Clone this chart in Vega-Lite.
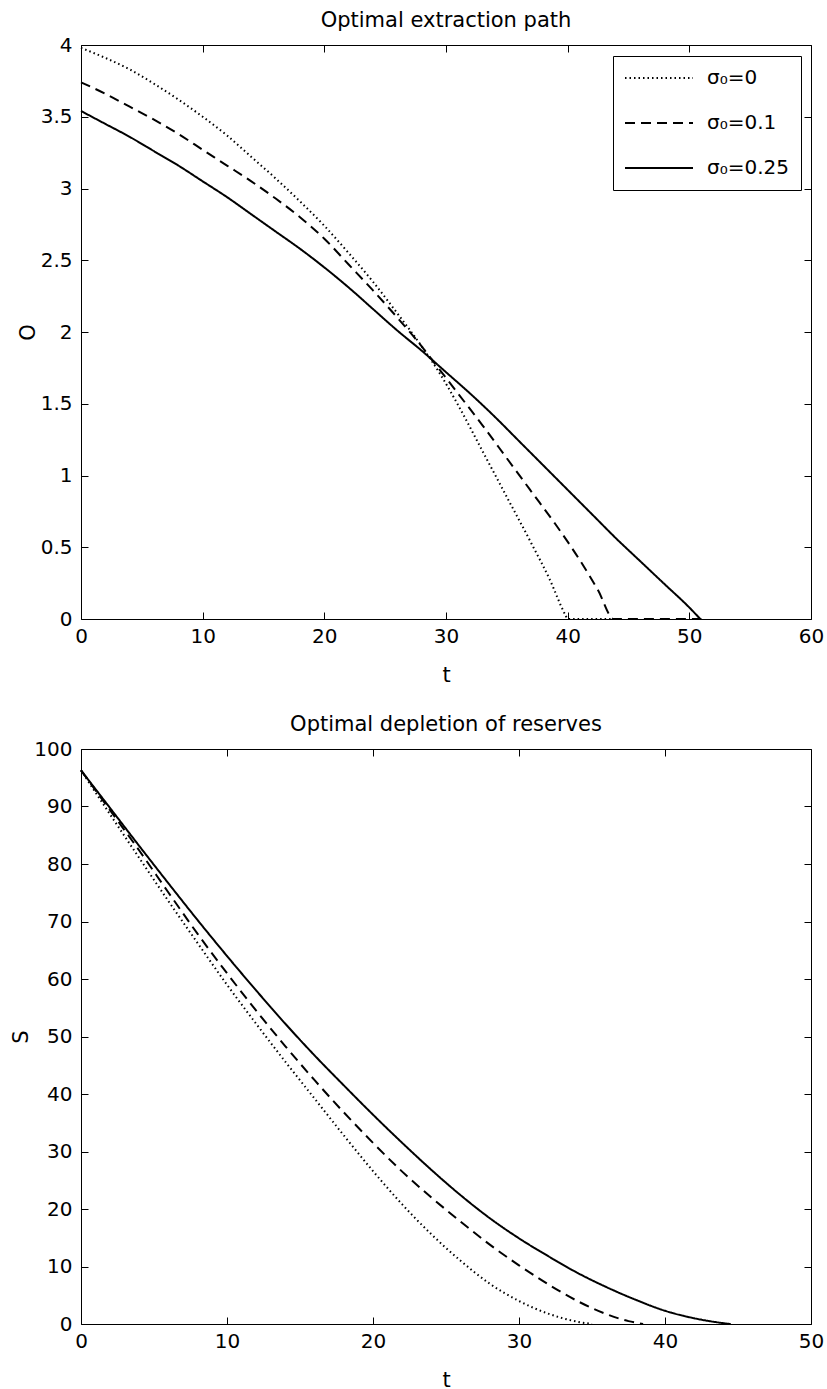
{
  "$schema": "https://vega.github.io/schema/vega-lite/v6.json",
  "background": "white",
  "padding": {"left": 10, "top": 10, "right": 0, "bottom": 2},
  "datasets": {
    "extraction": [
      {"t": 0, "O": 3.98, "series": "σ₀=0"}, {"t": 2, "O": 3.91, "series": "σ₀=0"}, {"t": 4, "O": 3.83, "series": "σ₀=0"}, {"t": 6, "O": 3.73, "series": "σ₀=0"}, {"t": 8, "O": 3.62, "series": "σ₀=0"}, {"t": 10, "O": 3.5, "series": "σ₀=0"}, {"t": 12, "O": 3.37, "series": "σ₀=0"}, {"t": 14, "O": 3.22, "series": "σ₀=0"}, {"t": 16, "O": 3.07, "series": "σ₀=0"}, {"t": 18, "O": 2.91, "series": "σ₀=0"}, {"t": 20, "O": 2.74, "series": "σ₀=0"}, {"t": 22, "O": 2.55, "series": "σ₀=0"}, {"t": 24, "O": 2.35, "series": "σ₀=0"}, {"t": 26, "O": 2.13, "series": "σ₀=0"}, {"t": 28, "O": 1.9, "series": "σ₀=0"}, {"t": 29.5, "O": 1.71, "series": "σ₀=0"}, {"t": 31, "O": 1.49, "series": "σ₀=0"}, {"t": 33, "O": 1.17, "series": "σ₀=0"}, {"t": 35, "O": 0.85, "series": "σ₀=0"}, {"t": 37, "O": 0.53, "series": "σ₀=0"}, {"t": 38.5, "O": 0.28, "series": "σ₀=0"}, {"t": 39.8, "O": 0.03, "series": "σ₀=0"}, {"t": 40, "O": 0, "series": "σ₀=0"}, {"t": 44, "O": 0, "series": "σ₀=0"},
      {"t": 0, "O": 3.74, "series": "σ₀=0.1"}, {"t": 2, "O": 3.66, "series": "σ₀=0.1"}, {"t": 4, "O": 3.57, "series": "σ₀=0.1"}, {"t": 6, "O": 3.48, "series": "σ₀=0.1"}, {"t": 8, "O": 3.38, "series": "σ₀=0.1"}, {"t": 10, "O": 3.27, "series": "σ₀=0.1"}, {"t": 12, "O": 3.16, "series": "σ₀=0.1"}, {"t": 14, "O": 3.05, "series": "σ₀=0.1"}, {"t": 16, "O": 2.93, "series": "σ₀=0.1"}, {"t": 18, "O": 2.8, "series": "σ₀=0.1"}, {"t": 20, "O": 2.65, "series": "σ₀=0.1"}, {"t": 22, "O": 2.47, "series": "σ₀=0.1"}, {"t": 24, "O": 2.29, "series": "σ₀=0.1"}, {"t": 26, "O": 2.1, "series": "σ₀=0.1"}, {"t": 28, "O": 1.9, "series": "σ₀=0.1"}, {"t": 29, "O": 1.79, "series": "σ₀=0.1"}, {"t": 31, "O": 1.57, "series": "σ₀=0.1"}, {"t": 33, "O": 1.35, "series": "σ₀=0.1"}, {"t": 35, "O": 1.12, "series": "σ₀=0.1"}, {"t": 37, "O": 0.89, "series": "σ₀=0.1"}, {"t": 39, "O": 0.66, "series": "σ₀=0.1"}, {"t": 41, "O": 0.41, "series": "σ₀=0.1"}, {"t": 42.5, "O": 0.2, "series": "σ₀=0.1"}, {"t": 43.8, "O": 0, "series": "σ₀=0.1"}, {"t": 51, "O": 0, "series": "σ₀=0.1"},
      {"t": 0, "O": 3.54, "series": "σ₀=0.25"}, {"t": 2, "O": 3.45, "series": "σ₀=0.25"}, {"t": 4, "O": 3.36, "series": "σ₀=0.25"}, {"t": 6, "O": 3.26, "series": "σ₀=0.25"}, {"t": 8, "O": 3.16, "series": "σ₀=0.25"}, {"t": 10, "O": 3.05, "series": "σ₀=0.25"}, {"t": 12, "O": 2.94, "series": "σ₀=0.25"}, {"t": 14, "O": 2.82, "series": "σ₀=0.25"}, {"t": 16, "O": 2.7, "series": "σ₀=0.25"}, {"t": 18, "O": 2.58, "series": "σ₀=0.25"}, {"t": 20, "O": 2.45, "series": "σ₀=0.25"}, {"t": 22, "O": 2.31, "series": "σ₀=0.25"}, {"t": 24, "O": 2.16, "series": "σ₀=0.25"}, {"t": 26, "O": 2.01, "series": "σ₀=0.25"}, {"t": 28, "O": 1.87, "series": "σ₀=0.25"}, {"t": 30, "O": 1.72, "series": "σ₀=0.25"}, {"t": 32, "O": 1.57, "series": "σ₀=0.25"}, {"t": 34, "O": 1.41, "series": "σ₀=0.25"}, {"t": 36, "O": 1.24, "series": "σ₀=0.25"}, {"t": 38, "O": 1.07, "series": "σ₀=0.25"}, {"t": 40, "O": 0.9, "series": "σ₀=0.25"}, {"t": 42, "O": 0.73, "series": "σ₀=0.25"}, {"t": 44, "O": 0.56, "series": "σ₀=0.25"}, {"t": 46, "O": 0.4, "series": "σ₀=0.25"}, {"t": 48, "O": 0.24, "series": "σ₀=0.25"}, {"t": 50, "O": 0.08, "series": "σ₀=0.25"}, {"t": 50.9, "O": 0, "series": "σ₀=0.25"}
    ],
    "depletion": [
      {"t": 0, "S": 96.3, "series": "σ₀=0"}, {"t": 2, "S": 88.6, "series": "σ₀=0"}, {"t": 4, "S": 81.0, "series": "σ₀=0"}, {"t": 6, "S": 73.5, "series": "σ₀=0"}, {"t": 8, "S": 66.2, "series": "σ₀=0"}, {"t": 10, "S": 59.0, "series": "σ₀=0"}, {"t": 12, "S": 52.2, "series": "σ₀=0"}, {"t": 14, "S": 45.6, "series": "σ₀=0"}, {"t": 16, "S": 39.2, "series": "σ₀=0"}, {"t": 18, "S": 32.8, "series": "σ₀=0"}, {"t": 20, "S": 26.6, "series": "σ₀=0"}, {"t": 22, "S": 20.8, "series": "σ₀=0"}, {"t": 24, "S": 15.6, "series": "σ₀=0"}, {"t": 26, "S": 11.0, "series": "σ₀=0"}, {"t": 28, "S": 7.0, "series": "σ₀=0"}, {"t": 30, "S": 4.0, "series": "σ₀=0"}, {"t": 32, "S": 1.8, "series": "σ₀=0"}, {"t": 34, "S": 0.4, "series": "σ₀=0"}, {"t": 35, "S": 0, "series": "σ₀=0"},
      {"t": 0, "S": 96.3, "series": "σ₀=0.1"}, {"t": 2, "S": 89.3, "series": "σ₀=0.1"}, {"t": 4, "S": 82.3, "series": "σ₀=0.1"}, {"t": 6, "S": 75.0, "series": "σ₀=0.1"}, {"t": 8, "S": 67.8, "series": "σ₀=0.1"}, {"t": 10, "S": 61.0, "series": "σ₀=0.1"}, {"t": 12, "S": 54.5, "series": "σ₀=0.1"}, {"t": 14, "S": 48.3, "series": "σ₀=0.1"}, {"t": 16, "S": 42.4, "series": "σ₀=0.1"}, {"t": 18, "S": 36.8, "series": "σ₀=0.1"}, {"t": 20, "S": 31.5, "series": "σ₀=0.1"}, {"t": 22, "S": 26.5, "series": "σ₀=0.1"}, {"t": 24, "S": 22.0, "series": "σ₀=0.1"}, {"t": 26, "S": 17.8, "series": "σ₀=0.1"}, {"t": 28, "S": 13.8, "series": "σ₀=0.1"}, {"t": 30, "S": 10.2, "series": "σ₀=0.1"}, {"t": 32, "S": 6.9, "series": "σ₀=0.1"}, {"t": 34, "S": 4.0, "series": "σ₀=0.1"}, {"t": 36, "S": 1.7, "series": "σ₀=0.1"}, {"t": 37.5, "S": 0.5, "series": "σ₀=0.1"}, {"t": 38.5, "S": 0, "series": "σ₀=0.1"},
      {"t": 0, "S": 96.3, "series": "σ₀=0.25"}, {"t": 2, "S": 89.7, "series": "σ₀=0.25"}, {"t": 4, "S": 83.1, "series": "σ₀=0.25"}, {"t": 6, "S": 76.6, "series": "σ₀=0.25"}, {"t": 8, "S": 70.2, "series": "σ₀=0.25"}, {"t": 10, "S": 64.0, "series": "σ₀=0.25"}, {"t": 12, "S": 58.0, "series": "σ₀=0.25"}, {"t": 14, "S": 52.2, "series": "σ₀=0.25"}, {"t": 16, "S": 46.7, "series": "σ₀=0.25"}, {"t": 18, "S": 41.5, "series": "σ₀=0.25"}, {"t": 20, "S": 36.4, "series": "σ₀=0.25"}, {"t": 22, "S": 31.5, "series": "σ₀=0.25"}, {"t": 24, "S": 26.8, "series": "σ₀=0.25"}, {"t": 26, "S": 22.4, "series": "σ₀=0.25"}, {"t": 28, "S": 18.4, "series": "σ₀=0.25"}, {"t": 30, "S": 14.9, "series": "σ₀=0.25"}, {"t": 32, "S": 11.8, "series": "σ₀=0.25"}, {"t": 34, "S": 8.9, "series": "σ₀=0.25"}, {"t": 36, "S": 6.4, "series": "σ₀=0.25"}, {"t": 38, "S": 4.2, "series": "σ₀=0.25"}, {"t": 40, "S": 2.3, "series": "σ₀=0.25"}, {"t": 42, "S": 1.0, "series": "σ₀=0.25"}, {"t": 44, "S": 0.15, "series": "σ₀=0.25"}, {"t": 44.5, "S": 0, "series": "σ₀=0.25"}
    ]
  },
  "config": {
    "font": "DejaVu Sans",
    "view": {"stroke": null},
    "axis": {
      "labelFont": "DejaVu Sans", "labelFontSize": 20, "labelColor": "black",
      "titleFont": "DejaVu Sans", "titleFontSize": 21, "titleFontWeight": "normal", "titleColor": "black",
      "domainColor": "black", "domainWidth": 1, "tickColor": "black", "tickWidth": 1, "tickSize": -7,
      "grid": false, "labelFlush": false, "labelOverlap": false
    },
    "title": {"font": "DejaVu Sans", "fontSize": 21, "fontWeight": "normal", "color": "black", "anchor": "middle", "baseline": "alphabetic", "offset": 4},
    "legend": {
      "orient": "none", "title": null, "strokeColor": "black", "fillColor": "white", "padding": 12,
      "symbolType": "M-34,0H34", "symbolSize": 4, "symbolStrokeWidth": 2, "symbolStrokeColor": "black", "symbolFillColor": "transparent",
      "symbolOffset": 24, "labelOffset": 38, "labelFont": "DejaVu Sans", "labelFontSize": 20, "labelColor": "black", "rowPadding": 25
    }
  },
  "spacing": 130,
  "bounds": "flush",
  "vconcat": [
    {
      "title": {"text": "Optimal extraction path"},
      "width": 730, "height": 574,
      "data": {"name": "extraction"},
      "layer": [
        {
          "mark": {"type": "line", "interpolate": "monotone", "color": "black", "strokeWidth": 2},
          "encoding": {
            "x": {"field": "t", "type": "quantitative", "scale": {"domain": [0, 60]}, "axis": {"orient": "bottom", "title": "t", "format": "d", "values": [0, 10, 20, 30, 40, 50, 60], "labelPadding": 14, "titlePadding": 18}},
            "y": {"field": "O", "type": "quantitative", "scale": {"domain": [0, 4]}, "axis": {"orient": "left", "title": "O", "format": ".1~f", "values": [0, 0.5, 1, 1.5, 2, 2.5, 3, 3.5, 4], "labelPadding": 16, "titlePadding": 2}},
            "strokeDash": {"field": "series", "type": "nominal", "scale": {"domain": ["σ₀=0", "σ₀=0.1", "σ₀=0.25"], "range": [[1.5, 3], [10, 6], [1, 0]]}, "legend": {"legendX": 532, "legendY": 11}}
          }
        },
        {
          "mark": {"type": "line", "opacity": 0},
          "encoding": {
            "x": {"field": "t", "type": "quantitative", "axis": {"orient": "top", "labels": false, "title": null, "values": [0, 10, 20, 30, 40, 50, 60]}},
            "y": {"field": "O", "type": "quantitative", "axis": {"orient": "right", "labels": false, "title": null, "values": [0, 0.5, 1, 1.5, 2, 2.5, 3, 3.5, 4]}}
          }
        }
      ],
      "resolve": {"axis": {"x": "independent", "y": "independent"}}
    },
    {
      "title": {"text": "Optimal depletion of reserves"},
      "width": 730, "height": 575,
      "data": {"name": "depletion"},
      "layer": [
        {
          "mark": {"type": "line", "interpolate": "monotone", "color": "black", "strokeWidth": 2},
          "encoding": {
            "x": {"field": "t", "type": "quantitative", "scale": {"domain": [0, 50]}, "axis": {"orient": "bottom", "title": "t", "format": "d", "values": [0, 10, 20, 30, 40, 50], "labelPadding": 14, "titlePadding": 18}},
            "y": {"field": "S", "type": "quantitative", "scale": {"domain": [0, 100]}, "axis": {"orient": "left", "title": "S", "format": "d", "values": [0, 10, 20, 30, 40, 50, 60, 70, 80, 90, 100], "labelPadding": 16, "titlePadding": 2}},
            "strokeDash": {"field": "series", "type": "nominal", "scale": {"domain": ["σ₀=0", "σ₀=0.1", "σ₀=0.25"], "range": [[1.5, 3], [10, 6], [1, 0]]}, "legend": {"legendX": 532, "legendY": 13}}
          }
        },
        {
          "mark": {"type": "line", "opacity": 0},
          "encoding": {
            "x": {"field": "t", "type": "quantitative", "axis": {"orient": "top", "labels": false, "title": null, "values": [0, 10, 20, 30, 40, 50]}},
            "y": {"field": "S", "type": "quantitative", "axis": {"orient": "right", "labels": false, "title": null, "values": [0, 10, 20, 30, 40, 50, 60, 70, 80, 90, 100]}}
          }
        }
      ],
      "resolve": {"axis": {"x": "independent", "y": "independent"}}
    }
  ]
}
